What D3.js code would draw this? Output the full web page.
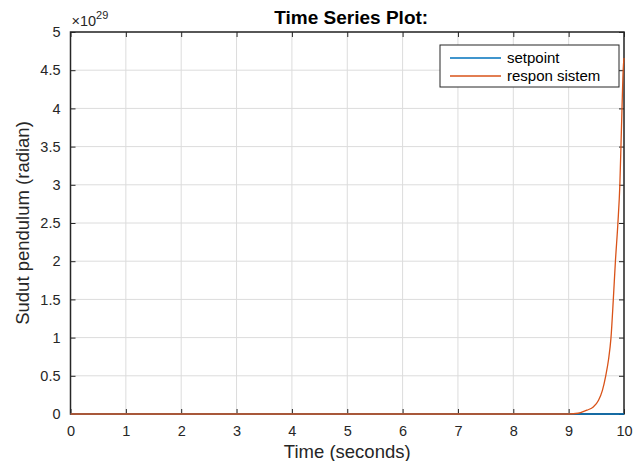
<!DOCTYPE html>
<html>
<head>
<meta charset="utf-8">
<script src="https://cdn.jsdelivr.net/npm/d3@7/dist/d3.min.js"></script>
<style>
  body { margin: 0; background: #fff; }
  svg { font-family: "Liberation Sans", Arial, sans-serif; }
  .grid line { stroke: #dcdcdc; stroke-width: 1; }
</style>
</head>
<body>
<div id="chart"></div>
<script>
// data (values in units of 1e29)
var setpointTime = [0, 10];
var setpointValue = [0, 0];
var responTime = [0, 9.0, 9.17, 9.33, 9.45, 9.54, 9.61, 9.67, 9.72, 9.765, 9.807, 9.845, 9.89, 9.925, 9.945, 9.964, 9.985, 10];
var responValue = [0, 0, 0.01, 0.05, 0.095, 0.18, 0.31, 0.5, 0.71, 1.0, 1.5, 2.0, 2.5, 3.0, 3.5, 4.0, 4.5, 4.66];
var xTicks = [0, 1, 2, 3, 4, 5, 6, 7, 8, 9, 10];
var yTicks = [0, 0.5, 1, 1.5, 2, 2.5, 3, 3.5, 4, 4.5, 5];
var seriesNames = ['setpoint', 'respon sistem'];
var seriesColors = ['#0072BD', '#D95319'];

var W = 643, H = 461;
var margin = {top: 32, right: 19, bottom: 47, left: 70.5},
    width = W - margin.left - margin.right,
    height = H - margin.top - margin.bottom;

var x = d3.scaleLinear().domain([0, 10]).range([0, width]);
var y = d3.scaleLinear().domain([0, 5]).range([height, 0]);

var svg = d3.select('#chart').append('svg')
    .attr('width', W).attr('height', H);
var g = svg.append('g')
    .attr('transform', 'translate(' + margin.left + ',' + margin.top + ')');

// grid
g.append('g').attr('class', 'grid')
  .selectAll('line.v').data(xTicks).enter().append('line')
    .attr('x1', function(d) { return x(d); }).attr('x2', function(d) { return x(d); })
    .attr('y1', 0).attr('y2', height);
g.append('g').attr('class', 'grid')
  .selectAll('line.h').data(yTicks).enter().append('line')
    .attr('y1', function(d) { return y(d); }).attr('y2', function(d) { return y(d); })
    .attr('x1', 0).attr('x2', width);

// axes (inward ticks, MATLAB style)
var tickStyle = function(sel) {
  sel.selectAll('.domain').remove();
  sel.selectAll('line').attr('stroke', '#262626');
  sel.selectAll('text').attr('fill', '#262626').style('font-size', '14.5px');
};
g.append('g').attr('transform', 'translate(0,' + height + ')')
  .call(d3.axisBottom(x).tickValues(xTicks).tickSize(-5).tickPadding(12).tickFormat(d3.format('d')))
  .call(tickStyle);
g.append('g')
  .call(d3.axisTop(x).tickValues(xTicks).tickSize(-5).tickFormat(''))
  .call(tickStyle);
g.append('g')
  .call(d3.axisLeft(y).tickValues(yTicks).tickSize(-5).tickPadding(10).tickFormat(function(d) { return d; }))
  .call(tickStyle);
g.append('g').attr('transform', 'translate(' + width + ',0)')
  .call(d3.axisRight(y).tickValues(yTicks).tickSize(-5).tickFormat(''))
  .call(tickStyle);

// frame
g.append('rect').attr('width', width).attr('height', height)
  .attr('fill', 'none').attr('stroke', '#262626').attr('stroke-width', 1.5);

// lines (drawn over the frame)
var line = d3.line()
  .x(function(d) { return x(d[0]); })
  .y(function(d) { return y(d[1]); })
  .curve(d3.curveMonotoneX);

var series = [d3.zip(setpointTime, setpointValue), d3.zip(responTime, responValue)];
series.forEach(function(s, i) {
  g.append('path')
    .attr('d', line(s))
    .attr('fill', 'none')
    .attr('stroke', seriesColors[i])
    .attr('stroke-width', 1.3);
});

// exponent
var expo = g.append('text').attr('x', 1).attr('y', -6)
  .attr('fill', '#262626').style('font-size', '14.5px');
expo.append('tspan').text('\u00d710');
expo.append('tspan').attr('dy', -7).style('font-size', '11px').text('29');

// title and labels
svg.append('text').attr('x', margin.left + width / 2 + 4).attr('y', 24)
  .attr('text-anchor', 'middle').attr('font-weight', 'bold')
  .style('font-size', '19px').attr('fill', '#000').text('Time Series Plot:');
svg.append('text').attr('x', margin.left + width / 2).attr('y', 458)
  .attr('text-anchor', 'middle').style('font-size', '18.5px').attr('fill', '#262626')
  .text('Time (seconds)');
svg.append('text')
  .attr('transform', 'translate(29,' + (margin.top + height / 2) + ') rotate(-90)')
  .attr('text-anchor', 'middle').style('font-size', '18.5px').attr('fill', '#262626')
  .text('Sudut pendulum (radian)');

// legend
var lg = svg.append('g').attr('transform', 'translate(440,45)');
lg.append('rect').attr('width', 179).attr('height', 42)
  .attr('fill', '#fff').attr('stroke', '#262626').attr('stroke-width', 1);
seriesNames.forEach(function(name, i) {
  var yy = 13 + i * 18;
  lg.append('line').attr('x1', 10).attr('x2', 61).attr('y1', yy).attr('y2', yy)
    .attr('stroke', seriesColors[i]).attr('stroke-width', 1.3);
  lg.append('text').attr('x', 67).attr('y', yy + 5)
    .style('font-size', '15px').attr('fill', '#000').text(name);
});
</script>
</body>
</html>
